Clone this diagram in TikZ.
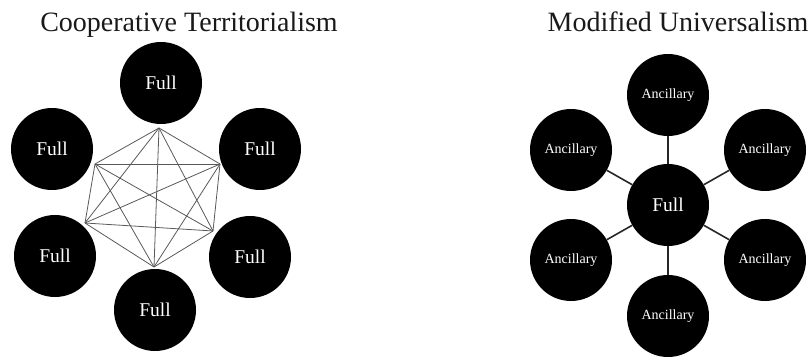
\documentclass[tikz,border=0pt]{standalone}
\usepackage{fontspec}
\setmainfont{Liberation Serif}
\begin{document}
\begin{tikzpicture}[x=1pt,y=-1pt,
  disc/.style={circle,fill=black,inner sep=0pt,minimum size=82pt,text=white},
  fulltxt/.style={font=\fontsize{19.5}{20}\selectfont},
  anctxt/.style={font=\fontsize{14}{15}\selectfont},
  mesh/.style={draw=black!65,line width=0.8pt},
  spoke/.style={draw=black!85,line width=1.6pt},
  title/.style={font=\fontsize{28}{30}\selectfont,text=black!90,anchor=base}]
\useasboundingbox (0,0) rectangle (811,358);
% titles
\node[title] (t1) at (189,32) {Cooperative Territorialism};
\node[title] (t2) at (678,32) {Modified Universalism};
% left diagram
\node[disc,fulltxt] (T)  at (161,83)  {Full};
\node[disc,fulltxt] (UL) at (52,149)  {Full};
\node[disc,fulltxt] (UR) at (260,149) {Full};
\node[disc,fulltxt] (LL) at (55,256)  {Full};
\node[disc,fulltxt] (LR) at (250,257) {Full};
\node[disc,fulltxt] (B)  at (155,310) {Full};
\coordinate (pT)  at (159,128);
\coordinate (pUL) at (95,164);
\coordinate (pUR) at (220,164);
\coordinate (pLL) at (85,223);
\coordinate (pLR) at (213,231);
\coordinate (pB)  at (154,267);
\foreach \a/\b in {pT/pUL,pT/pUR,pT/pLL,pT/pLR,pT/pB,
                   pUL/pUR,pUL/pLL,pUL/pLR,pUL/pB,
                   pUR/pLL,pUR/pLR,pUR/pB,
                   pLL/pLR,pLL/pB,
                   pLR/pB}
  \draw[mesh] (\a) -- (\b);
% right diagram
\node[disc,fulltxt] (C)  at (668,205) {Full};
\node[disc,anctxt] (A1) at (668,95)  {Ancillary};
\node[disc,anctxt] (A2) at (571,150) {Ancillary};
\node[disc,anctxt] (A3) at (765,150) {Ancillary};
\node[disc,anctxt] (A4) at (571,260) {Ancillary};
\node[disc,anctxt] (A5) at (765,260) {Ancillary};
\node[disc,anctxt] (A6) at (668,316) {Ancillary};
\foreach \n in {A1,A2,A3,A4,A5,A6}
  \draw[spoke] (C) -- (\n);
\end{tikzpicture}
\end{document}
